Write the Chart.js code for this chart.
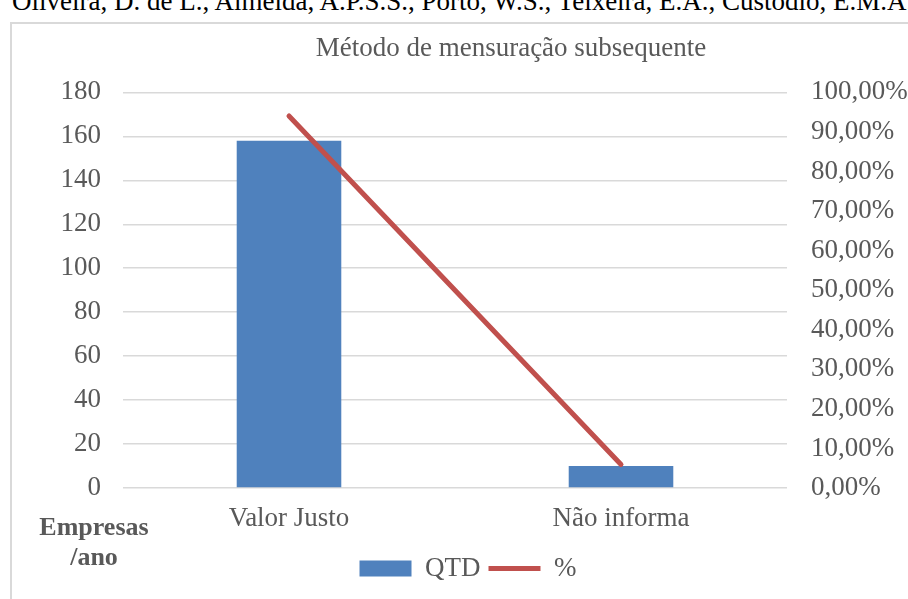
<!DOCTYPE html>
<html lang="pt">
<head>
  <meta charset="UTF-8" />
  <title>Método de mensuração subsequente</title>
  <script src="https://cdn.jsdelivr.net/npm/chart.js"></script>
  <style>
    html, body { margin: 0; padding: 0; background: #fff; overflow: hidden; width: 908px; height: 599px; }
    .ref { position: absolute; left: 12px; top: -12px; white-space: nowrap;
           font-family: "Liberation Serif", serif; font-size: 27px; line-height: 1; color: #000; }
    .box { position: absolute; left: 10px; top: 22px; width: 1100px; height: 700px;
           border: 2px solid #d9d9d9; background: #fff; }
    .box canvas { position: absolute; left: 0; top: 0; }
    .ylabel { position: absolute; left: 16px; top: 488px; width: 132px; text-align: center;
              font-family: "Liberation Serif", serif; font-weight: bold; font-size: 26px;
              line-height: 30px; color: #595959; }
  </style>
</head>
<body>

  <div class="ref">Oliveira, D. de L., Almeida, A.P.S.S., Porto, W.S., Teixeira, E.A., Custódio, E.M.A.</div>

  <div class="box">
    <canvas id="chart" width="998" height="575"></canvas>
    <div class="ylabel">Empresas<br>/ano</div>
  </div>

  <script>
    const categories = ['Valor Justo', 'Não informa'];
    const qtd = [158, 10];
    const pct = [0.9405, 0.0595];
    const leftTicks = [0, 180, 20];   // min, max, step
    const rightTicks = [0, 1, 0.1];

    const grey = '#595959';
    const serif = '"Liberation Serif", "Times New Roman", serif';

    // move the legend a bit to the right, like the original
    const legendShift = {
      id: 'legendShift',
      afterLayout(chart) {
        const lg = chart.legend;
        lg.left += 13; lg.right += 13;
        lg.adjustHitBoxes();
      }
    };

    new Chart(document.getElementById('chart'), {
      data: {
        labels: categories,
        datasets: [
          {
            type: 'line',
            label: '%',
            data: pct,
            yAxisID: 'y1',
            borderColor: '#C0504D',
            backgroundColor: '#C0504D',
            borderWidth: 5,
            borderCapStyle: 'round',
            pointRadius: 0,
            pointStyle: 'line',
            order: 0
          },
          {
            type: 'bar',
            label: 'QTD',
            data: qtd,
            yAxisID: 'y',
            backgroundColor: '#4F81BD',
            borderWidth: 0,
            categoryPercentage: 1,
            barPercentage: 0.315,
            pointStyle: 'rect',
            order: 1
          }
        ]
      },
      options: {
        responsive: false,
        animation: false,
        layout: { padding: { left: 0, right: 0, top: 0, bottom: 7 } },
        plugins: {
          title: {
            display: true,
            text: 'Método de mensuração subsequente',
            color: grey,
            font: { family: serif, size: 27, weight: 'normal' },
            padding: { top: 9, bottom: 27 }
          },
          legend: {
            position: 'bottom',
            fullSize: false,
            reverse: true,
            labels: {
              usePointStyle: true,
              pointStyleWidth: 52,
              boxHeight: 16,
              padding: 8,
              color: grey,
              font: { family: serif, size: 27 }
            }
          },
          tooltip: { enabled: false }
        },
        scales: {
          x: {
            grid: { display: false },
            border: { display: false },
            ticks: { color: grey, font: { family: serif, size: 27 }, padding: 7 },
            afterFit(s) { s.height = 59; }
          },
          y: {
            position: 'left',
            min: leftTicks[0], max: leftTicks[1],
            ticks: { stepSize: leftTicks[2], color: grey, font: { family: serif, size: 27 }, padding: 22 },
            grid: { color: '#d9d9d9', lineWidth: 1.5, drawTicks: false },
            border: { display: false },
            afterFit(s) { s.width = 111; }
          },
          y1: {
            position: 'right',
            min: rightTicks[0], max: rightTicks[1],
            ticks: {
              stepSize: rightTicks[2], color: grey, font: { family: serif, size: 27 }, padding: 24,
              callback: v => (v * 100).toFixed(2).replace('.', ',') + '%'
            },
            grid: { drawOnChartArea: false, drawTicks: false },
            border: { display: false },
            afterFit(s) { s.width = 223; }
          }
        }
      },
      plugins: [legendShift]
    });
  </script>

</body>
</html>
